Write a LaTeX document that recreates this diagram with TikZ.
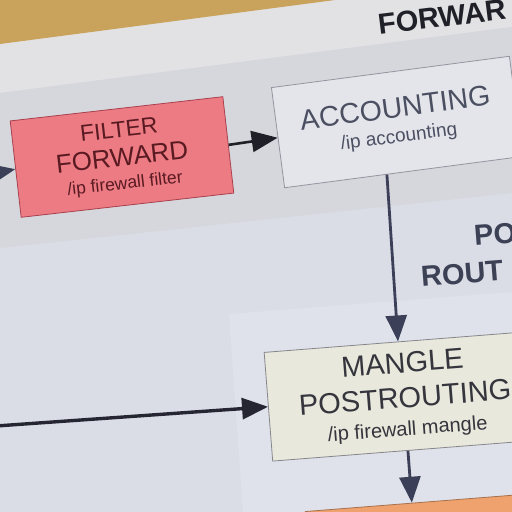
\documentclass[tikz,border=0pt]{standalone}
\usepackage{fontspec}
\setmainfont{Liberation Sans}
\usetikzlibrary{arrows.meta,calc}
\definecolor{bgc}{HTML}{DADDE6}
\definecolor{slidec}{HTML}{E2E2E5}
\definecolor{woodc}{HTML}{C9A35C}
\definecolor{panelc}{HTML}{D6D7DC}
\definecolor{lowpanelc}{HTML}{DFE2EA}
\definecolor{filterc}{HTML}{EC7B83}
\definecolor{filterb}{HTML}{A8404E}
\definecolor{filtert}{HTML}{5A1A22}
\definecolor{acctc}{HTML}{E4E5EA}
\definecolor{acctt}{HTML}{4B4F62}
\definecolor{manglec}{HTML}{E8E8DC}
\definecolor{manglet}{HTML}{35353D}
\definecolor{nextc}{HTML}{EFA26E}
\definecolor{arrowc}{HTML}{3C3F58}
\definecolor{titlec}{HTML}{202028}
\definecolor{headc}{HTML}{3C4156}
\tikzset{
  chainbox/.style={draw, line width=0.8pt, align=center, inner sep=0pt},
  arr/.style={draw=arrowc, line width=2.8pt, -{Triangle[length=26pt,width=21pt]}},
  heading/.style={anchor=west, inner sep=0pt, font=\fontsize{29}{32}\selectfont\bfseries}
}
\begin{document}
\begin{tikzpicture}[x=1pt,y=-1pt]
\useasboundingbox (0,0) rectangle (512,512);
% background of the photographed slide
\fill[bgc] (0,0) rectangle (512,512);
\fill[slidec] (0,0) -- (512,0) -- (512,27) -- (0,93) -- cycle;
\fill[woodc] (0,0) -- (335,0) -- (0,44) -- cycle;
\fill[panelc] (0,93) -- (512,27) -- (512,193) -- (0,248) -- cycle;
\fill[lowpanelc] (229,314) -- (512,292) -- (512,512) -- (243,512) -- cycle;

% headings (cut off by the photo)
\node[heading, text=titlec, rotate=7] (title) at (378,25) {FORWAR};
\node[heading, text=headc, rotate=4.5] (po) at (474,236) {PO};
\node[heading, text=headc, rotate=4.5] (rout) at (421,277) {ROUT};

% chain boxes
\node[chainbox, rotate=6.5, minimum width=214pt, minimum height=97pt,
      fill=filterc, draw=filterb, text=filtert,
      font=\fontsize{26}{28}\selectfont] (filter) at (122,157)
  {{\fontsize{23}{28}\selectfont FILTER}\\[1pt]FORWARD\\[-5pt]{\fontsize{17.5}{20}\selectfont /ip firewall filter}};

\node[chainbox, rotate=7.5, minimum width=240pt, minimum height=101pt,
      fill=acctc, draw=acctt!60, text=acctt,
      font=\fontsize{28.5}{30}\selectfont] (acct) at (397,122)
  {ACCOUNTING\\[-5pt]{\fontsize{19}{22}\selectfont /ip accounting}};

\node[chainbox, rotate=4.5, minimum width=274pt, minimum height=109pt,
      fill=manglec, draw=manglet!60, text=manglet,
      font=\fontsize{29}{34}\selectfont] (mangle) at (405,396)
  {MANGLE\\[1pt]POSTROUTING\\[-6pt]{\fontsize{20}{22}\selectfont /ip firewall mangle}};

\node[rotate=4.5, minimum width=240pt, minimum height=80pt, inner sep=0pt,
      fill=nextc, draw=nextc!70!black, line width=0.8pt] (next) at (428,542) {};

% connectors
\coordinate (in1) at (-4,173);
\coordinate (in2) at (-4,426);
\draw[arr, line width=2.4pt] (in1) -- (filter.west);
\draw[arr, draw=titlec, line width=2.6pt] (filter.east) -- (acct.west);
\draw[arr] ($(acct.south west)!0.43!(acct.south east)$) -- ($(mangle.north west)!0.49!(mangle.north east)$);
\draw[arr, draw=titlec!80!arrowc, line width=3.4pt] (in2) -- (mangle.west);
\draw[arr] ($(mangle.south west)!0.495!(mangle.south east)$) -- ($(next.north west)!0.446!(next.north east)$);
\end{tikzpicture}
\end{document}
